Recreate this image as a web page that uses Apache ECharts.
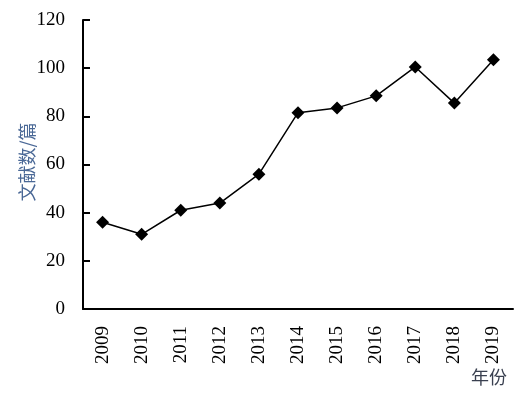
<!DOCTYPE html>
<html>
<head>
<meta charset="utf-8">
<script src="https://cdn.jsdelivr.net/npm/echarts@6/dist/echarts.min.js"></script>
<style>
html,body{margin:0;padding:0;background:#fff;}
#chart{width:530px;height:394px;}
</style>
</head>
<body>
<div id="chart"></div>
<script>
const years = ['2009','2010','2011','2012','2013','2014','2015','2016','2017','2018','2019'];
const counts = [36, 31, 41, 44, 56, 81.5, 83.5, 88.5, 100.5, 85.5, 103.5];
const yTicks = [0, 20, 40, 60, 80, 100, 120];
const yAxisTitle = '文献数/篇';
const xAxisTitle = '年份';

const serif = '"Liberation Serif", "Times New Roman", serif';
const cjk = '"Noto Sans CJK SC", "Liberation Serif", serif';

const chart = echarts.init(document.getElementById('chart'));
chart.setOption({
  animation: false,
  backgroundColor: '#fff',
  grid: { left: 83, right: 17, top: 20, bottom: 85, containLabel: false },
  xAxis: {
    type: 'category',
    data: years,
    boundaryGap: true,
    axisLine: { lineStyle: { color: '#000', width: 2 } },
    axisTick: { inside: true, length: 7, lineStyle: { color: '#000', width: 2 }, alignWithLabel: false },
    axisLabel: { rotate: 90, color: '#000', fontFamily: serif, fontSize: 19, margin: 17 },
    splitLine: { show: false }
  },
  yAxis: {
    type: 'value',
    min: yTicks[0],
    max: yTicks[yTicks.length - 1],
    interval: 20,
    axisLine: { show: true, lineStyle: { color: '#000', width: 2 } },
    axisTick: { show: true, inside: true, length: 7, lineStyle: { color: '#000', width: 2 } },
    axisLabel: { color: '#000', fontFamily: serif, fontSize: 19, margin: 18 },
    splitLine: { show: false }
  },
  graphic: [
    {
      type: 'text',
      x: 27, y: 162,
      rotation: Math.PI / 2,
      style: {
        text: yAxisTitle,
        font: '18px ' + cjk,
        fill: '#4a6896',
        align: 'center',
        verticalAlign: 'middle'
      }
    },
    {
      type: 'text',
      x: 489, y: 377,
      style: {
        text: xAxisTitle,
        font: '18px ' + cjk,
        fill: '#3a4050',
        align: 'center',
        verticalAlign: 'middle'
      }
    }
  ],
  series: [{
    type: 'line',
    data: counts,
    symbol: 'diamond',
    symbolSize: 13,
    itemStyle: { color: '#000' },
    lineStyle: { color: '#000', width: 1.5 }
  }]
});
</script>
</body>
</html>
